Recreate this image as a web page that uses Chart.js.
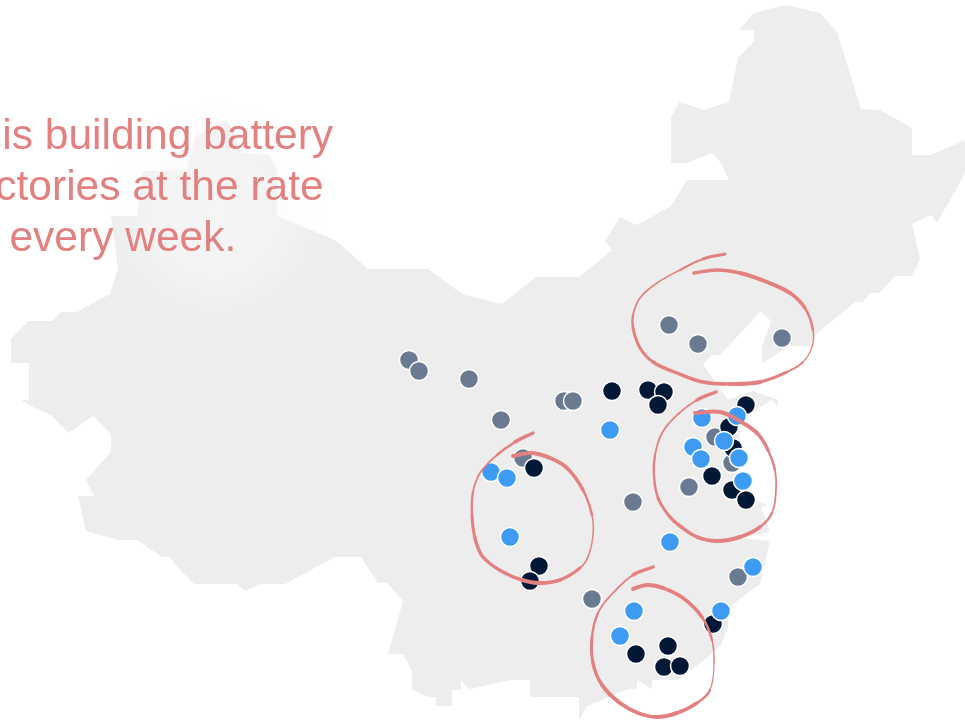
<!DOCTYPE html>
<html>
<head>
<meta charset="utf-8">
<title>China battery gigafactories</title>
<script src="https://cdn.jsdelivr.net/npm/chart.js@4/dist/chart.umd.js"></script>
<style>
    html, body { margin: 0; padding: 0; background: #fff; overflow: hidden; }
    #wrap { width: 965px; height: 720px; }
</style>
</head>
<body>
<div id="wrap"><canvas id="map" width="965" height="720"></canvas></div>
<script>
// map outline (clockwise from the northern tip)
const mapX = [787,820,837,861,880,912,912,931,965,965,937,931,912,920,912,895,880,870,863,855,815,810,790,762,762,771,761,720,712,703,728,753,778,778,772,752,740,738,745,767,761,770,740,770,760,737,728,728,721,713,678,652,652,637,637,628,587,579,579,530,530,512,469,461,461,452,452,436,436,428,412,412,403,388,403,387,378,361,335,285,260,245,237,194,177,170,162,137,118,86,78,94,86,111,111,93,68,52,35,21,29,29,11,11,28,52,61,77,110,118,111,137,143,187,195,227,242,269,277,277,335,368,428,462,502,536,579,612,605,612,620,637,671,687,729,721,712,687,671,671,679,704,729,738,754,754,739,754]
const mapY = [5,13,32,109,110,128,155,155,140,173,223,215,224,259,276,276,293,293,302,302,335,346,346,363,347,321,311,355,355,364,400,391,400,407,400,412,428,470,495,505,507,532,538,541,584,601,610,627,645,653,680,680,689,680,689,689,706,720,697,697,680,680,689,680,690,690,706,706,697,697,690,671,654,654,601,583,583,557,557,584,584,591,584,584,567,557,557,540,540,531,496,496,480,452,434,416,433,416,408,400,400,363,363,339,321,321,312,312,294,268,216,216,171,170,137,120,153,155,169,216,240,269,269,294,304,277,277,250,241,230,217,225,206,180,180,163,153,163,163,118,102,110,102,58,41,30,30,13]

// factory sites by status
const slateX = [669,698,782,409,419,469,501,564,573,523,633,592,738,689,715,732]
const slateY = [325,344,338,360,371,379,420,401,401,458,502,599,577,487,437,463]
const darkX = [612,648,664,658,746,729,733,712,732,746,534,539,530,713,636,668,664,680]
const darkY = [391,390,392,405,405,427,448,476,490,500,468,566,581,624,654,646,667,666]
const blueX = [702,737,693,701,724,739,743,491,507,510,610,670,753,721,634,620]
const blueY = [418,416,447,459,441,458,481,472,478,537,430,542,567,611,611,636]

// hand drawn rings
const ringNorthX = [725,703,680,657,640,633,633,640,653,677,703,730,760,787,803,812,813,805,790,767,740,717,694]
const ringNorthY = [254,259,270,283,298,315,328,348,362,373,382,384,382,372,362,347,330,308,293,282,273,270,273]
const ringEastX = [716,697,677,662,655,654,658,670,680,697,717,740,760,772,776,775,768,757,738,720,695]
const ringEastY = [392,400,415,433,455,475,498,517,526,537,541,537,527,513,490,470,450,433,420,412,413]
const ringWestX = [533,515,497,480,473,472,475,483,503,522,540,560,580,588,593,592,583,567,550,532,513]
const ringWestY = [433,442,455,473,492,515,538,557,572,580,583,580,568,557,535,515,490,468,458,453,456]
const ringSouthX = [653,633,613,598,592,593,602,620,638,657,677,697,710,714,712,702,683,663,647,633]
const ringSouthY = [567,575,593,613,637,663,685,703,713,717,713,703,690,663,640,617,598,588,585,589]

// pen pressure along each ring
const ringNorthPen = [3,2.2,1.6,1.6,1.8,2.4,3,3,3.5,3.5,3.5,4,3,1.8,1.2,1.5,2.5,3.5,4,4,3.5,3.5]
const ringEastPen = [3.5,1.8,1.8,1.8,2.4,2.4,3,3.5,3.5,4,4,3.5,2.4,1.8,1.8,2.5,3.5,4,4,4]
const ringWestPen = [3.5,2.4,1.8,1.8,2.4,3,3.5,3.5,3.5,4,4,3,1.8,1.5,1.5,2.5,3.5,4,4,4]
const ringSouthPen = [3.5,1.8,1.8,2.4,3,3.5,4,4,4,4,3.5,2.4,1.2,1.5,2.5,3.5,3.5,4,4]

const headline = ["China is building battery", "gigafactories at the rate", "of one every week."]

const ink = '#e38080'

function pairs (xs, ys) {
    return xs.map((x, i) => ({x: x, y: ys[i]}))
}

function sites (xs, ys, colour, order) {
    return {
        type: 'scatter',
        data: pairs(xs, ys),
        order: order,
        pointRadius: 9.5,
        pointHoverRadius: 9.5,
        pointBackgroundColor: colour,
        pointBorderColor: '#ffffff',
        pointBorderWidth: 1.5,
        showLine: false
    }
}

function ring (xs, ys, pen) {
    return {
        type: 'line',
        data: pairs(xs, ys),
        order: 1,
        borderColor: ink,
        borderCapStyle: 'round',
        borderWidth: 2,
        tension: 0.4,
        pointRadius: 0,
        fill: false,
        segment: {
            borderWidth: ctx => pen[ctx.p0DataIndex]
        }
    }
}

// white glow behind the headline, then the headline itself
const headlinePlugin = {
    id: 'headline',
    afterDatasetsDraw (chart) {
        let ctx = chart.ctx
        let sx = chart.scales.x
        let sy = chart.scales.y
        let cx = sx.getPixelForValue(216)
        let cy = sy.getPixelForValue(213)
        let glow = ctx.createRadialGradient(cx, cy, 0, cx, cy, 112)
        glow.addColorStop(0, 'rgba(251,251,251,0.6)')
        glow.addColorStop(0.6, 'rgba(250,250,250,0.45)')
        glow.addColorStop(1, 'rgba(250,250,250,0)')
        ctx.save()
        ctx.fillStyle = glow
        ctx.beginPath()
        ctx.arc(cx, cy, 112, 0, Math.PI * 2)
        ctx.fill()

        ctx.fillStyle = ink
        ctx.font = '42.5px "Liberation Sans", Arial, sans-serif'
        ctx.textAlign = 'left'
        ctx.textBaseline = 'alphabetic'
        headline.forEach((line, i) => {
            ctx.fillText(line, sx.getPixelForValue(-120.5), sy.getPixelForValue(149 + i * 51))
        })
        ctx.restore()
    }
}

new Chart(document.getElementById('map').getContext('2d'), {
    type: 'scatter',
    data: {
        datasets: [
            {
                type: 'line',
                data: pairs(mapX, mapY),
                order: 9,
                borderWidth: 0,
                backgroundColor: '#ededed',
                fill: 'shape',
                tension: 0,
                pointRadius: 0
            },
            sites(slateX, slateY, '#697a91', 4),
            sites(darkX, darkY, '#001735', 3),
            sites(blueX, blueY, '#3d9bf3', 2),
            ring(ringNorthX, ringNorthY, ringNorthPen),
            ring(ringEastX, ringEastY, ringEastPen),
            ring(ringWestX, ringWestY, ringWestPen),
            ring(ringSouthX, ringSouthY, ringSouthPen)
        ]
    },
    options: {
        responsive: false,
        animation: false,
        layout: { padding: 0, autoPadding: false },
        plugins: {
            legend: { display: false },
            tooltip: { enabled: false }
        },
        scales: {
            x: { type: 'linear', min: 0, max: 965, display: false },
            y: { type: 'linear', min: 0, max: 720, reverse: true, display: false }
        }
    },
    plugins: [headlinePlugin]
})
</script>
</body>
</html>
